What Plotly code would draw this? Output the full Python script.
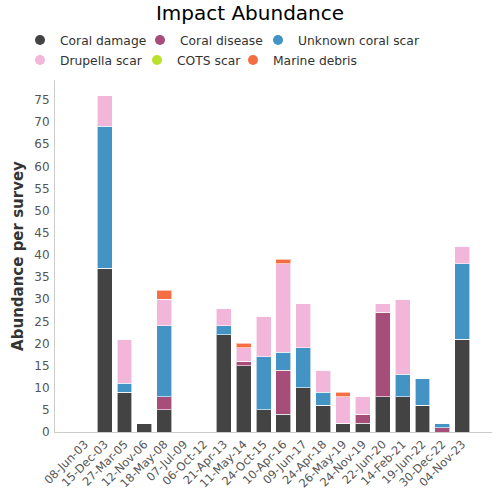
import plotly.graph_objects as go

dates = ["08-Jun-03", "15-Dec-03", "27-Mar-05", "12-Nov-06", "18-May-08", "07-Jul-09",
         "06-Oct-12", "21-Apr-13", "11-May-14", "24-Oct-15", "10-Apr-16", "09-Jun-17",
         "24-Apr-18", "26-May-19", "24-Nov-19", "22-Jun-20", "14-Feb-21", "19-Jun-22",
         "30-Dec-22", "04-Nov-23"]

coral_damage = [0, 37, 9, 2, 5, 0, 0, 22, 15, 5, 4, 10, 6, 2, 2, 8, 8, 6, 0, 21]
coral_disease = [0, 0, 0, 0, 3, 0, 0, 0, 1, 0, 10, 0, 0, 0, 2, 19, 0, 0, 1, 0]
unknown_scar = [0, 32, 2, 0, 16, 0, 0, 2, 0, 12, 4, 9, 3, 0, 0, 0, 5, 6, 1, 17]
drupella_scar = [0, 7, 10, 0, 6, 0, 0, 4, 3, 9, 20, 10, 5, 6, 4, 2, 17, 0, 0, 4]
cots_scar = [0] * 20
marine_debris = [0, 0, 0, 0, 2, 0, 0, 0, 1, 0, 1, 0, 0, 1, 0, 0, 0, 0, 0, 0]

series_names = ["Coral damage", "Coral disease", "Unknown coral scar",
                "Drupella scar", "COTS scar", "Marine debris"]
series_values = [coral_damage, coral_disease, unknown_scar,
                 drupella_scar, cots_scar, marine_debris]
series_colors = ["#434343", "#a64d79", "#4394c4", "#f1b6da", "#b8e12b", "#f46d43"]

FONT = "DejaVu Sans"
PLOT_L, PLOT_W, PLOT_T, PLOT_H = 55, 437, 80, 352

# legend item placement (marker centre in px, row centre in px)
legend_marker_px = [40, 160, 278, 40, 157, 253]
legend_row_px = [40, 40, 40, 60, 60, 60]

fig = go.Figure()
for name, vals, color in zip(series_names, series_values, series_colors):
    fig.add_trace(go.Bar(
        x=dates, y=vals, name=name, marker_color=color,
        marker_line=dict(color="rgba(255,255,255,0.6)", width=1),
        legendgroup=name, showlegend=False,
    ))

legends = {}
for i, (name, color) in enumerate(zip(series_names, series_colors)):
    key = "legend" if i == 0 else f"legend{i + 1}"
    fig.add_trace(go.Scatter(
        x=[None], y=[None], mode="markers", name=name, legendgroup=name,
        marker=dict(symbol="circle", size=10, color=color), legend=key,
        showlegend=True,
    ))
    left_px = legend_marker_px[i] - 20
    legends[key] = dict(
        orientation="h", xanchor="left", yanchor="middle",
        x=(left_px - PLOT_L) / PLOT_W,
        y=1 + (PLOT_T - legend_row_px[i]) / PLOT_H,
        font=dict(family=FONT, size=12.3, color="#333333"),
        bgcolor="rgba(0,0,0,0)", itemwidth=30,
    )

fig.update_layout(
    width=500, height=500,
    margin=dict(l=PLOT_L, r=500 - PLOT_L - PLOT_W, t=PLOT_T, b=500 - PLOT_T - PLOT_H,
                autoexpand=False),
    paper_bgcolor="white", plot_bgcolor="white",
    barmode="stack", bargap=0.25,
    title=dict(text="Impact Abundance", x=0.5, xanchor="center", y=0.975, yanchor="middle",
               font=dict(family=FONT, size=20, color="#000000")),
    xaxis=dict(
        type="category", range=[-1.5, 20.5], tickangle=-45, automargin=False,
        tickfont=dict(family=FONT, size=11.5, color="#555555"),
        showline=True, linecolor="#cccccc", linewidth=1,
        ticks="", showgrid=False,
    ),
    yaxis=dict(
        range=[0, 79.5], tickvals=list(range(0, 80, 5)), automargin=False,
        tickfont=dict(family=FONT, size=12, color="#555555"),
        showline=True, linecolor="#cccccc", linewidth=1,
        showgrid=False, zeroline=False, ticks="", ticklabelstandoff=2,
        title=dict(text="<b>Abundance per survey</b>",
                   font=dict(family=FONT, size=15, color="#333333"), standoff=7),
    ),
    **legends,
)

fig.write_html("out.html", config={"displayModeBar": False},
               post_script="document.body.style.margin='0px';")
